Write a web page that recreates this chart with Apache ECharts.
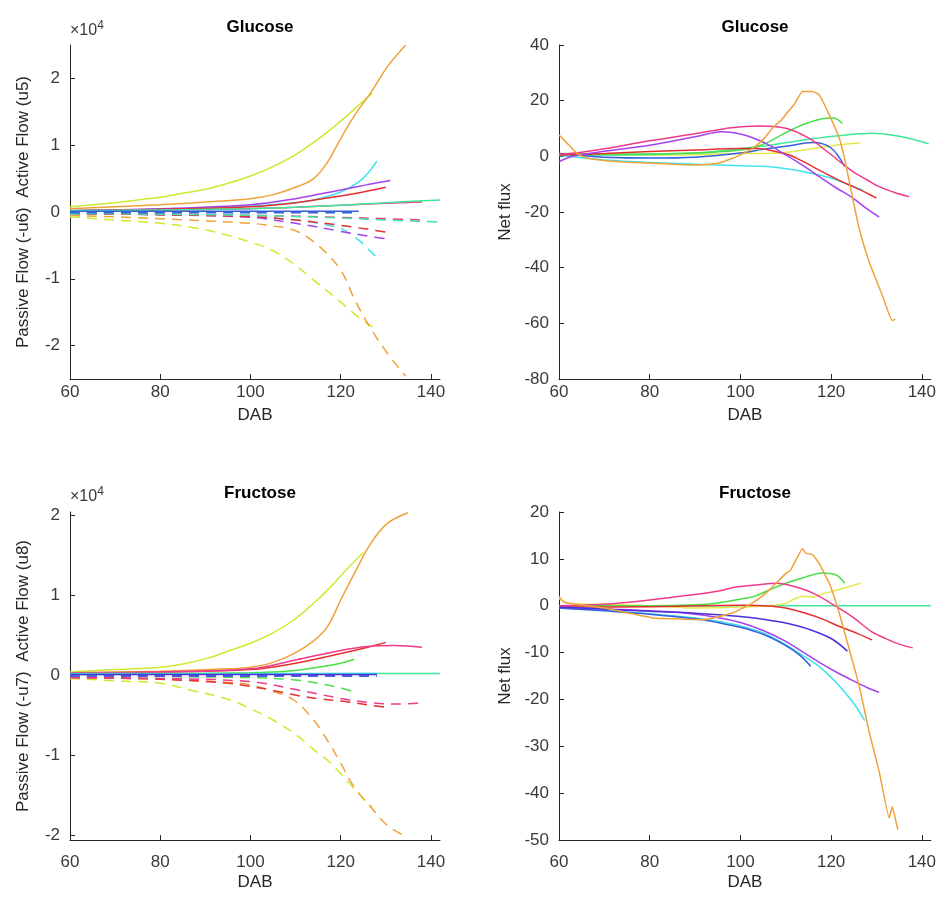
<!DOCTYPE html>
<html><head><meta charset="utf-8">
<script src="https://cdn.jsdelivr.net/npm/echarts@6/dist/echarts.min.js"></script>
<style>html,body{margin:0;padding:0;background:#fff}#c{width:939px;height:906px}</style>
</head><body><div id="c"></div><script>
// ---------- DATA ----------
const xTicks = [60, 80, 100, 120, 140];
const flowTicksTop = [-2, -1, 0, 1, 2];
const flowTicksBottom = [-2, -1, 0, 1, 2];
const netTicksTop = [-80, -60, -40, -20, 0, 20, 40];
const netTicksBottom = [-50, -40, -30, -20, -10, 0, 10, 20];

// Glucose active flow (u5), x10^4
const gAct_yg = [[60,0.08],[65,0.11],[70,0.14],[75,0.18],[80,0.22],[85,0.28],[90,0.34],[95,0.43],[100,0.54],[105,0.68],[110,0.86],[115,1.09],[120,1.36],[124,1.6],[127,1.78]];
const gAct_or = [[60,0.05],[70,0.08],[80,0.11],[90,0.15],[100,0.2],[105,0.26],[110,0.37],[114,0.5],[117,0.74],[120,1.1],[123,1.44],[126.7,1.79],[130.4,2.18],[134.4,2.5]];
const gAct_cy = [[60,0.02],[80,0.04],[100,0.09],[110,0.14],[114,0.18],[120,0.3],[124,0.45],[126,0.58],[128,0.76]];
const gAct_vi = [[60,0.02],[80,0.05],[100,0.11],[110,0.2],[120,0.33],[126,0.41],[131,0.47]];
const gAct_rd = [[60,0.02],[80,0.04],[100,0.08],[110,0.14],[120,0.24],[125,0.3],[130,0.37]];
const gAct_pk = [[60,0.02],[80,0.03],[100,0.05],[110,0.07],[120,0.1],[130,0.13],[138,0.15]];
const gAct_sg = [[60,0.02],[100,0.05],[120,0.1],[130,0.14],[142,0.18]];
const gAct_bl = [[60,0.01],[100,0.01],[124,0.01]];
// Glucose passive flow (-u6), x10^4
const gPas_yg = [[60,-0.07],[70,-0.12],[80,-0.17],[88,-0.24],[95,-0.35],[100,-0.45],[105,-0.58],[110,-0.8],[114,-1.02],[120,-1.35],[124,-1.58],[127,-1.72]];
const gPas_or = [[60,-0.05],[80,-0.1],[100,-0.17],[105,-0.21],[110,-0.28],[115,-0.5],[120,-0.87],[123,-1.3],[126.7,-1.75],[130.4,-2.12],[134.4,-2.46]];
const gPas_cy = [[60,-0.03],[80,-0.04],[100,-0.07],[110,-0.12],[115,-0.17],[120,-0.25],[124,-0.42],[126,-0.55],[128,-0.68]];
const gPas_vi = [[60,-0.02],[80,-0.04],[100,-0.08],[110,-0.17],[120,-0.29],[126,-0.36],[131,-0.41]];
const gPas_rd = [[60,-0.02],[80,-0.04],[100,-0.07],[110,-0.12],[120,-0.2],[130,-0.3]];
const gPas_pk = [[60,-0.02],[100,-0.05],[120,-0.08],[130,-0.1],[138,-0.12]];
const gPas_sg = [[60,-0.02],[100,-0.05],[120,-0.09],[130,-0.12],[142,-0.15]];
const gPas_bl = [[60,-0.01],[100,-0.01],[124,-0.01]];

// Glucose net flux
const gNet_or = [[60,7.7],[61,6],[62.5,3.5],[64,1],[66,-0.5],[70,-1.5],[75,-2.1],[80.7,-2.5],[86,-2.9],[91,-3.1],[95,-2.5],[98.3,-0.7],[100.5,1],[102.7,2.9],[105,6],[107,10],[109,13],[110,15],[112,19],[113.7,23.3],[115.9,23.3],[117.4,22],[119.6,14.9],[121.8,6.5],[123,-1],[124,-9],[125,-17],[126.2,-26],[128.4,-38],[131.3,-50],[133.5,-59],[134.2,-58.5]];
const gNet_gr = [[60,1],[70,0.8],[80,0.8],[90,1.2],[95,1.6],[100,2.3],[103,3.2],[106,5],[110,8.5],[114,11.5],[118,13.5],[120.5,13.8],[122.5,11.8]];
const gNet_sg = [[60,0.5],[70,0.5],[80,0.7],[90,1.2],[95,1.8],[100,2.8],[107,4.1],[114,5.9],[121,7.3],[129,8.3],[135,7.2],[141.5,4.5]];
const gNet_vi = [[60,-2],[63,0],[70,1.8],[80,4],[90,7],[96,8.8],[100,8],[103,6.5],[107,3.5],[110,0.5],[114,-3.5],[117.4,-7.3],[121,-11.2],[124.8,-15],[128,-19],[130.6,-21.8]];
const gNet_pk = [[60,0.8],[65,1.5],[70,2.7],[80,5.6],[90,8.1],[98,10.3],[104,10.9],[110,10.1],[115,6.6],[119.6,1.1],[122,-2],[124.8,-5.5],[128,-8.5],[130.6,-10.9],[134,-13],[137.2,-14.5]];
const gNet_rd = [[60,0.5],[70,1],[80,1.7],[90,2.3],[100,2.8],[104,2.8],[107,2],[110.8,0.5],[114,-2],[118,-5.5],[121,-8],[124,-10.3],[127,-12.5],[129.4,-14.5],[130,-15]];
const gNet_bl = [[60,1],[65,0.3],[70,-0.3],[80,-0.6],[90,-0.3],[100,1.2],[105,2.5],[110,3.6],[116,5],[120,3],[123,-3.7]];
const gNet_cy = [[60,0.3],[65,-0.5],[70,-1.3],[80,-2.2],[90,-2.8],[100,-3.4],[107,-3.8],[114,-5.5],[120,-7.8],[124,-10.3],[127,-12.2]];
const gNet_ye = [[60,0.8],[70,0.6],[80,0.5],[90,0.6],[100,1],[107,1.1],[114,2.3],[121,4],[126.5,4.9]];

// Fructose active flow (u8), x10^4
const fAct_yg = [[60,0.04],[70,0.07],[80,0.1],[85,0.14],[91,0.22],[95,0.3],[100,0.4],[105,0.53],[109.6,0.69],[114,0.9],[117,1.06],[120,1.24],[123,1.42],[125,1.53]];
const fAct_or = [[60,0.03],[80,0.05],[95,0.08],[100,0.1],[105,0.16],[109.6,0.27],[114,0.43],[117,0.6],[120,0.94],[123,1.27],[126.7,1.65],[130.4,1.9],[134.9,2.03]];
const fAct_rd = [[60,0.03],[80,0.04],[100,0.07],[110,0.15],[120,0.27],[126,0.35],[130,0.41]];
const fAct_pk = [[60,0.03],[80,0.04],[100,0.08],[110,0.19],[120,0.31],[126,0.36],[132,0.37],[138,0.35]];
const fAct_gr = [[60,0.01],[100,0.03],[110,0.06],[115,0.1],[120,0.15],[123,0.2]];
const fAct_sg = [[60,0.02],[142,0.02]];
const fAct_cy = [[60,0.01],[128,0.02]];
const fAct_in = [[60,0.01],[128,0.01]];
// Fructose passive flow (-u7), x10^4
const fPas_yg = [[60,-0.04],[70,-0.07],[80,-0.1],[87,-0.19],[95,-0.3],[100,-0.42],[105,-0.56],[110,-0.74],[114,-0.93],[117,-1.06],[120,-1.23],[123,-1.42],[126,-1.6],[127,-1.65]];
const fPas_or = [[60,-0.03],[80,-0.05],[95,-0.09],[100,-0.12],[105,-0.2],[109.6,-0.31],[114,-0.56],[117,-0.81],[120,-1.1],[123,-1.4],[126.7,-1.65],[130.4,-1.88],[134.9,-2.03]];
const fPas_rd = [[60,-0.03],[80,-0.05],[95,-0.1],[100,-0.14],[105,-0.19],[111,-0.26],[116,-0.3],[121,-0.33],[127,-0.38],[130,-0.4]];
const fPas_pk = [[60,-0.03],[80,-0.04],[100,-0.08],[110,-0.18],[120,-0.29],[126,-0.34],[132,-0.36],[138,-0.35]];
const fPas_gr = [[60,-0.01],[100,-0.03],[110,-0.06],[115,-0.1],[120,-0.16],[123,-0.21]];
const fPas_cy = [[60,-0.01],[128,-0.01]];
const fPas_in = [[60,-0.01],[128,-0.01]];

// Fructose net flux
const fNet_or = [[60,2],[61,0.8],[63,0.4],[70,-0.5],[75,-1.5],[80.7,-2.6],[86,-2.8],[91.7,-3],[95,-2.4],[98.3,-1.5],[100.5,-0.5],[102.7,0.6],[105.6,2.7],[108.6,5.5],[110,6.9],[111,7.5],[112.2,9.7],[113.7,12.2],[114.4,11.2],[115.9,10.9],[117.4,9],[119.6,4.8],[121.8,-1.6],[124,-9.3],[126.2,-17.1],[128.4,-27],[130.6,-35.4],[132.8,-45.3],[133.5,-42.9],[134.7,-47.8]];
const fNet_pk = [[60,0],[70,0.3],[80,1.2],[90,2.4],[95,3.1],[99,4],[104,4.5],[108,4.8],[111.5,4.2],[116,2.7],[121,-0.1],[125,-2.6],[129,-5.6],[132,-7],[135,-8.2],[138,-9]];
const fNet_gr = [[60,0],[80,0],[90,0.2],[95,0.6],[100,1.4],[103,2],[106,3.2],[110,4.8],[114,6],[118,7],[121,6.6],[123,4.8]];
const fNet_sg = [[60,0],[142,0]];
const fNet_ye = [[60,1.5],[62,0.5],[70,0.3],[80,0],[90,-0.5],[100,-0.3],[106,0],[110,0.5],[112,1.5],[114,2],[116,1.8],[118,2.5],[120,3],[123,3.8],[126.5,4.8]];
const fNet_rd = [[60,-0.3],[80,-0.2],[100,0.1],[107,-0.1],[110,-0.5],[114,-1.5],[118,-2.8],[122,-4.5],[126,-6],[129,-7.3]];
const fNet_in = [[60,-0.3],[70,-0.7],[80,-1.2],[90,-1.6],[100,-2.3],[105,-2.9],[110,-3.7],[115,-5],[120,-7],[123.6,-9.7]];
const fNet_vi = [[60,-0.3],[70,-0.7],[80,-1.1],[88,-1.6],[95,-2.5],[100,-3.6],[105,-5.3],[110,-7.6],[114,-10],[117.4,-12.1],[121,-14.1],[124.8,-16],[128,-17.5],[130.6,-18.5]];
const fNet_cy = [[60,-0.5],[70,-1],[80,-1.7],[90,-2.6],[95,-3.3],[100,-4.3],[105,-5.8],[110,-8.3],[114,-10.8],[117.4,-13],[121,-16.3],[124.8,-20.6],[127.4,-24.5]];
const fNet_bl = [[60,-0.5],[70,-1.1],[80,-1.8],[90,-2.8],[95,-3.6],[100,-4.6],[105,-6.1],[110,-8.5],[113,-10.5],[115.5,-12.9]];

// ---------- STYLE ----------
const C = {
  rd:'#e3302f', or:'#f0a23a', ye:'#e4e84c', yg:'#cdea2e', gr:'#4ade48', sg:'#3ee89a',
  cy:'#40e2ee', bl:'#3560dc', in:'#4a2fdc', vi:'#a542ec', mg:'#ec3ccf', pk:'#f03a8c'
};
const FONT = 'Liberation Sans, Arial, sans-serif';
const AX = '#262626';
const LBL = '#3a3a3a';

function mk(data, color, g, dashed, smooth) {
  return {
    type:'line', xAxisIndex:g, yAxisIndex:g, data, symbol:'none', showSymbol:false,
    smooth: smooth === undefined ? 0.35 : smooth, silent:true, animation:false,
    lineStyle:{color, width:1.5, type: dashed ? [10,7] : 'solid'}
  };
}

const grids = [
  {left:70, top:45, width:370, height:334},
  {left:559, top:45, width:373, height:334},
  {left:70, top:512, width:370, height:328},
  {left:559, top:512, width:373, height:328}
];

function xAx(g, margin, gap) {
  return {
    type:'value', gridIndex:g, min:60, max:142,
    axisLine:{show:true, onZero:false, lineStyle:{color:AX, width:1}},
    axisTick:{show:true, inside:true, length:5, customValues:xTicks, lineStyle:{color:AX}},
    axisLabel:{customValues:xTicks, color:LBL, fontSize:17, margin, fontFamily:FONT},
    splitLine:{show:false},
    name:'DAB', nameLocation:'middle', nameGap:gap,
    nameTextStyle:{fontSize:17, color:AX, fontFamily:FONT}
  };
}
function yAx(g, min, max, ticks, name, gap) {
  return {
    type:'value', gridIndex:g, min, max,
    axisLine:{show:true, onZero:false, lineStyle:{color:AX, width:1}},
    axisTick:{show:true, inside:true, length:5, customValues:ticks, lineStyle:{color:AX}},
    axisLabel:{customValues:ticks, color:LBL, fontSize:17, margin:10, fontFamily:FONT},
    splitLine:{show:false},
    name, nameLocation:'middle', nameGap:gap,
    nameTextStyle:{fontSize:17, color:AX, fontFamily:FONT}
  };
}

const series = [
  // top-left
  mk(gPas_yg,C.yg,0,true), mk(gPas_or,C.or,0,true), mk(gPas_cy,C.cy,0,true), mk(gPas_vi,C.vi,0,true),
  mk(gPas_rd,C.rd,0,true), mk(gPas_pk,C.pk,0,true), mk(gPas_sg,C.sg,0,true), mk(gPas_bl,C.bl,0,true),
  mk(gAct_yg,C.yg,0), mk(gAct_or,C.or,0), mk(gAct_cy,C.cy,0), mk(gAct_vi,C.vi,0),
  mk(gAct_rd,C.rd,0), mk(gAct_pk,C.pk,0), mk(gAct_sg,C.sg,0), mk(gAct_bl,C.bl,0),
  // top-right
  mk(gNet_ye,C.ye,1), mk(gNet_cy,C.cy,1), mk(gNet_sg,C.sg,1), mk(gNet_gr,C.gr,1), mk(gNet_bl,C.bl,1),
  mk(gNet_rd,C.rd,1), mk(gNet_vi,C.vi,1), mk(gNet_pk,C.pk,1), mk(gNet_or,C.or,1,false,0.15),
  // bottom-left
  mk(fPas_yg,C.yg,2,true), mk(fPas_or,C.or,2,true), mk(fPas_rd,C.rd,2,true), mk(fPas_pk,C.pk,2,true),
  mk(fPas_gr,C.gr,2,true), mk(fPas_cy,C.cy,2,true), mk(fPas_in,C.in,2,true),
  mk(fAct_yg,C.yg,2), mk(fAct_or,C.or,2), mk(fAct_rd,C.rd,2), mk(fAct_pk,C.pk,2),
  mk(fAct_gr,C.gr,2), mk(fAct_sg,C.sg,2), mk(fAct_cy,C.cy,2), mk(fAct_in,C.in,2),
  // bottom-right
  mk(fNet_sg,C.sg,3), mk(fNet_ye,C.ye,3,false,0.15), mk(fNet_gr,C.gr,3), mk(fNet_rd,C.rd,3),
  mk(fNet_cy,C.cy,3), mk(fNet_bl,C.bl,3), mk(fNet_vi,C.vi,3), mk(fNet_in,C.in,3),
  mk(fNet_pk,C.pk,3), mk(fNet_or,C.or,3,false,0.1)
];

const titleStyle = {fontSize:17, fontWeight:'bold', color:'#000', fontFamily:FONT};
const sup = {s:{fontSize:12, verticalAlign:'top', fill:LBL, padding:[0,0,9,0]}};
const option = {
  backgroundColor:'#fff',
  animation:false,
  title: [
    {text:'Glucose', left:255, top:14, textAlign:'center', textStyle:titleStyle},
    {text:'Glucose', left:750, top:14, textAlign:'center', textStyle:titleStyle},
    {text:'Fructose', left:255, top:480, textAlign:'center', textStyle:titleStyle},
    {text:'Fructose', left:750, top:480, textAlign:'center', textStyle:titleStyle}
  ],
  grid: grids,
  xAxis: [xAx(0, 5, 28), xAx(1, 5, 28), xAx(2, 14, 34), xAx(3, 14, 34)],
  yAxis: [
    yAx(0, -2.5, 2.5, flowTicksTop, 'Passive Flow (-u6)  Active Flow (u5)', 38),
    yAx(1, -80, 40, netTicksTop, 'Net flux', 45),
    yAx(2, -2.06, 2.04, flowTicksBottom, 'Passive Flow (-u7)  Active Flow (u8)', 38),
    yAx(3, -50, 20, netTicksBottom, 'Net flux', 45)
  ],
  graphic: [
    {type:'text', left:70, top:20, style:{text:'×10{s|4}', fill:LBL, font:'16px ' + FONT, rich:sup}},
    {type:'text', left:70, top:486, style:{text:'×10{s|4}', fill:LBL, font:'16px ' + FONT, rich:sup}}
  ],
  series
};
const chart = echarts.init(document.getElementById('c'), null, {renderer:'canvas'});
chart.setOption(option);
</script></body></html>
